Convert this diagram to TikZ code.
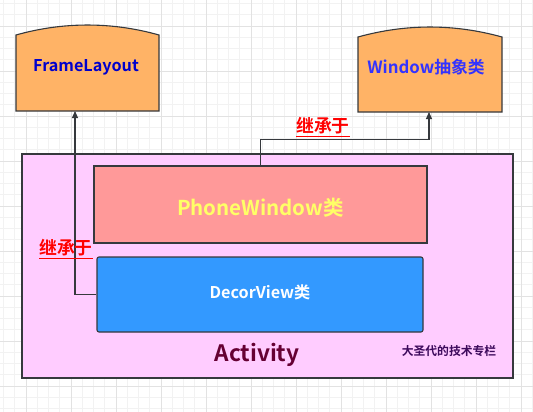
\documentclass[tikz,border=0pt]{standalone}
\usepackage{fontspec}
\setmainfont{Noto Sans CJK SC}[BoldFont={Noto Sans CJK SC Bold}]
\usetikzlibrary{arrows.meta,calc}
\pgfdeclarelayer{bg}
\pgfdeclarelayer{grid}
\pgfsetlayers{grid,bg,main}
\definecolor{gridminor}{HTML}{F2F2F2}
\definecolor{gridmajor}{HTML}{E2E2E2}
\definecolor{edge}{HTML}{36393D}
\definecolor{orangefill}{HTML}{FFB366}
\definecolor{actfill}{HTML}{FFCCFF}
\definecolor{pwfill}{HTML}{FF9999}
\definecolor{dvfill}{HTML}{3399FF}
\definecolor{fltext}{HTML}{0000CC}
\definecolor{wintext}{HTML}{3333FF}
\definecolor{pwtext}{HTML}{FFFF66}
\definecolor{acttext}{HTML}{660033}
\definecolor{notetext}{HTML}{3D0A5C}
\tikzset{
  topbox/.style={draw=none, minimum width=143pt, minimum height=88pt, inner sep=0pt},
  topshape/.style={draw=edge, fill=orangefill, line width=1.1pt},
  boxstyle/.style={draw=edge, line width=1.1pt, inner sep=0pt},
  conn/.style={draw=edge, line width=1.1pt, -{Triangle[length=7pt,width=6pt]}},
  inherit/.style={text=red, font=\bfseries\fontsize{17.8}{20}\selectfont},
}
\begin{document}
\begin{tikzpicture}[x=1pt,y=-1pt]
\useasboundingbox (0,0) rectangle (533,412);
\begin{pgfonlayer}{grid}
\fill[white] (0,0) rectangle (533,412);
\foreach \i in {0,...,47} {
  \pgfmathsetmacro\xx{3.5+11.25*\i}
  \draw[gridminor, line width=0.8pt] (\xx,0) -- (\xx,412);
}
\foreach \i in {0,...,37} {
  \pgfmathsetmacro\yy{3.5+11.25*\i}
  \draw[gridminor, line width=0.8pt] (0,\yy) -- (533,\yy);
}
\foreach \i in {0,...,11} {
  \pgfmathsetmacro\xx{26+45*\i}
  \draw[gridmajor, line width=0.9pt] (\xx,0) -- (\xx,412);
}
\foreach \i in {0,...,9} {
  \pgfmathsetmacro\yy{26+45*\i}
  \draw[gridmajor, line width=0.9pt] (0,\yy) -- (533,\yy);
}
\end{pgfonlayer}

% Activity container
\node[boxstyle, fill=actfill, minimum width=491pt, minimum height=224pt] (act) at (267.5,266) {};
% PhoneWindow
\node[boxstyle, fill=pwfill, minimum width=333pt, minimum height=77pt, text=pwtext, text height=22pt, text depth=0.2pt, font=\bfseries\fontsize{20.5}{24}\selectfont] (pw) at (260.5,204.5) {PhoneWindow类};
% DecorView
\node[boxstyle, fill=dvfill, rounded corners=2pt, minimum width=326pt, minimum height=75pt, text=white, text height=11pt, text depth=3.4pt, font=\bfseries\fontsize{16.2}{19}\selectfont] (dv) at (260,294.5) {DecorView类};
% Activity label
\node[text=acttext, font=\bfseries\fontsize{22.6}{27}\selectfont] (actlabel) at (257,355) {Activity};
\node[text=notetext, font=\bfseries\fontsize{11.8}{14}\selectfont] (note) at (449,351) {大圣代的技术专栏};

% Top boxes (text node + shape on background)
\node[topbox, text=fltext, font=\bfseries\fontsize{16.2}{19}\selectfont] (fl) at (86,67) {FrameLayout};
\node[topbox, text=wintext, font=\bfseries\fontsize{16.8}{20}\selectfont] (win) at (426,67) {Window抽象类};
\begin{pgfonlayer}{bg}
\draw[topshape] (16,111) -- (16,35) .. controls (63,21.7) and (112,21.7) .. (159,35) -- (159,111) -- cycle;
\draw[topshape] (358,112) -- (358,37) .. controls (406,23.7) and (454,23.7) .. (502,37) -- (502,112) -- cycle;
\end{pgfonlayer}
\coordinate (flb) at (75,111);
\coordinate (winb) at (429,112);

% connectors
\draw[conn] (dv.west) -| (flb);
\draw[conn] (pw.north) -- ++(0,-26) -| (winb);

% labels
\node[inherit] (inh1) at (323,127) {\underline{继承于}};
\node[inherit] (inh2) at (66,249) {\underline{继承于}};
\end{tikzpicture}
\end{document}
